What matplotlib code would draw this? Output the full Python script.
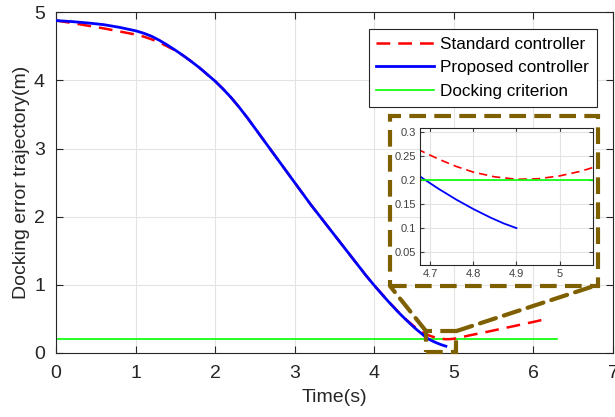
import matplotlib
matplotlib.use("Agg")
import matplotlib.pyplot as plt
from matplotlib.patches import Rectangle, ConnectionPatch

plt.rcParams['font.family'] = ['Liberation Sans', 'DejaVu Sans']

# ---- data ----
t_prop = [0, 0.2, 0.4, 0.6, 0.8, 1.0, 1.1, 1.2, 1.3, 1.4, 1.5, 1.6, 1.7, 1.8,
          1.9, 2.0, 2.1, 2.2, 2.3, 2.4, 2.5, 2.6, 2.7, 2.8, 2.9, 3.0, 3.1, 3.2,
          3.3, 3.4, 3.5, 3.6, 3.7, 3.8, 3.9, 4.0, 4.1, 4.2, 4.3, 4.4, 4.5,
          4.55, 4.6, 4.64, 4.68, 4.72, 4.76, 4.8, 4.84, 4.87, 4.9]
y_prop = [4.88, 4.865, 4.845, 4.82, 4.78, 4.73, 4.695, 4.65, 4.59, 4.52, 4.445,
          4.365, 4.28, 4.19, 4.09, 3.99, 3.875, 3.75, 3.61, 3.46, 3.30, 3.14,
          2.98, 2.82, 2.66, 2.50, 2.34, 2.18, 2.03, 1.88, 1.73, 1.58, 1.43,
          1.28, 1.13, 0.99, 0.855, 0.725, 0.60, 0.485, 0.375, 0.325, 0.278,
          0.238, 0.205, 0.181, 0.159, 0.139, 0.121, 0.109, 0.099]

t_std = [0, 0.2, 0.4, 0.6, 0.8, 1.0, 1.1, 1.2, 1.3, 1.4, 1.5, 1.6, 1.7, 1.8,
         1.9, 2.0, 2.1, 2.2, 2.3, 2.4, 2.5, 2.6, 2.7, 2.8, 2.9, 3.0, 3.1, 3.2,
         3.3, 3.4, 3.5, 3.6, 3.7, 3.8, 3.9, 4.0, 4.1, 4.2, 4.3, 4.4, 4.5,
         4.55, 4.6, 4.64, 4.68, 4.72, 4.76, 4.8, 4.85, 4.9, 4.95, 5.0, 5.05,
         5.1, 5.2, 5.4, 5.6, 5.8, 6.0, 6.17]
y_std = [4.88, 4.845, 4.805, 4.765, 4.72, 4.675, 4.645, 4.605, 4.56, 4.50, 4.44,
         4.365, 4.28, 4.19, 4.09, 3.99, 3.875, 3.75, 3.61, 3.46, 3.30, 3.14,
         2.98, 2.82, 2.66, 2.50, 2.34, 2.18, 2.03, 1.88, 1.73, 1.58, 1.43,
         1.28, 1.13, 0.99, 0.86, 0.73, 0.605, 0.49, 0.39, 0.345, 0.305,
         0.28, 0.26, 0.243, 0.228, 0.216, 0.206, 0.201, 0.202, 0.208, 0.218,
         0.232, 0.258, 0.305, 0.355, 0.405, 0.455, 0.50]

t_crit = [0, 6.3]
y_crit = [0.2, 0.2]

labels = ['Standard controller', 'Proposed controller', 'Docking criterion']
xticks_main = [0, 1, 2, 3, 4, 5, 6, 7]
yticks_main = [0, 1, 2, 3, 4, 5]
xticks_in = [4.7, 4.8, 4.9, 5.0]
xticklabels_in = ['4.7', '4.8', '4.9', '5']
yticks_in = [0.05, 0.1, 0.15, 0.2, 0.25, 0.3]
yticklabels_in = ['0.05', '0.1', '0.15', '0.2', '0.25', '0.3']

axc = '#262626'
gridc = '#e3e3e3'
boxc = '#7F6000'
box_ls = (0, (4, 2))

fig = plt.figure(figsize=(6.15, 4.17), dpi=100)
ax = fig.add_axes([56/615, 1-352.9/417, 557/615, 340.5/417])

ax.plot(t_std, y_std, color='#FF0000', ls=(0, (5.5, 3.2)), lw=1.8, label=labels[0], zorder=3)
ax.plot(t_prop, y_prop, color='#0000FF', lw=2.0, label=labels[1], zorder=4)
ax.plot(t_crit, y_crit, color='#00FF00', lw=1.2, label=labels[2], zorder=2)

ax.set_xlim(0, 7)
ax.set_ylim(0, 5)
ax.set_xticks(xticks_main)
ax.set_yticks(yticks_main)
ax.grid(True, color=gridc, lw=0.8)
ax.set_axisbelow(True)
ax.tick_params(direction='in', top=True, right=True, labelsize=14, colors=axc,
               length=5)
ax.tick_params(axis='x', pad=9)
ax.tick_params(axis='y', pad=8)
for s in ax.spines.values():
    s.set_color(axc)
    s.set_linewidth(0.8)
ax.set_xlabel('Time(s)', fontsize=14, color=axc, labelpad=5)
ax.set_ylabel('Docking error trajectory(m)', fontsize=14, color=axc, labelpad=3)

leg = ax.legend(loc='upper right', bbox_to_anchor=(0.971, 0.951), fontsize=12.3,
                frameon=True, fancybox=False, edgecolor=axc, framealpha=1,
                handlelength=3.4, handletextpad=0.35, borderpad=0.45,
                labelspacing=0.5, borderaxespad=0)
leg.get_frame().set_linewidth(0.8)

# zoom region box in main axes
ax.add_patch(Rectangle((4.65, 0.02), 0.38, 0.30, fill=False, edgecolor=boxc,
                       lw=3, ls=box_ls, clip_on=False, zorder=6))

# inset
axi = fig.add_axes([420/615, 1-265/417, 173/615, 137/417])
axi.plot(t_std, y_std, color='#FF0000', ls=(0, (5, 3)), lw=1.2)
axi.plot(t_prop, y_prop, color='#0000FF', lw=1.3)
axi.plot(t_crit, y_crit, color='#00FF00', lw=1.2)
axi.set_xlim(4.677, 5.077)
axi.set_ylim(0.022, 0.308)
axi.set_xticks(xticks_in)
axi.set_xticklabels(xticklabels_in)
axi.set_yticks(yticks_in)
axi.set_yticklabels(yticklabels_in)
axi.grid(True, color=gridc, lw=0.8)
axi.set_axisbelow(True)
axi.tick_params(direction='in', top=True, right=True, labelsize=8, colors='#404040',
                length=3, pad=3)
for s in axi.spines.values():
    s.set_color(axc)
    s.set_linewidth(0.8)

# big dashed box around inset
x0, x1 = 390/615, 598/615
y0, y1 = 1-286/417, 1-116/417
fig.add_artist(Rectangle((x0, y0), x1-x0, y1-y0, transform=fig.transFigure,
                         fill=False, edgecolor=boxc, lw=3, ls=box_ls, zorder=10))
# connectors
fig.add_artist(ConnectionPatch(xyA=(4.65, 0.32), coordsA=ax.transData,
                               xyB=(x0, y0), coordsB=fig.transFigure,
                               color=boxc, lw=3, ls=box_ls, zorder=10))
fig.add_artist(ConnectionPatch(xyA=(5.03, 0.32), coordsA=ax.transData,
                               xyB=(x1, y0 + 0.003), coordsB=fig.transFigure,
                               color=boxc, lw=3, ls=box_ls, zorder=10))

fig.savefig('out.png', dpi=100, facecolor='white')
